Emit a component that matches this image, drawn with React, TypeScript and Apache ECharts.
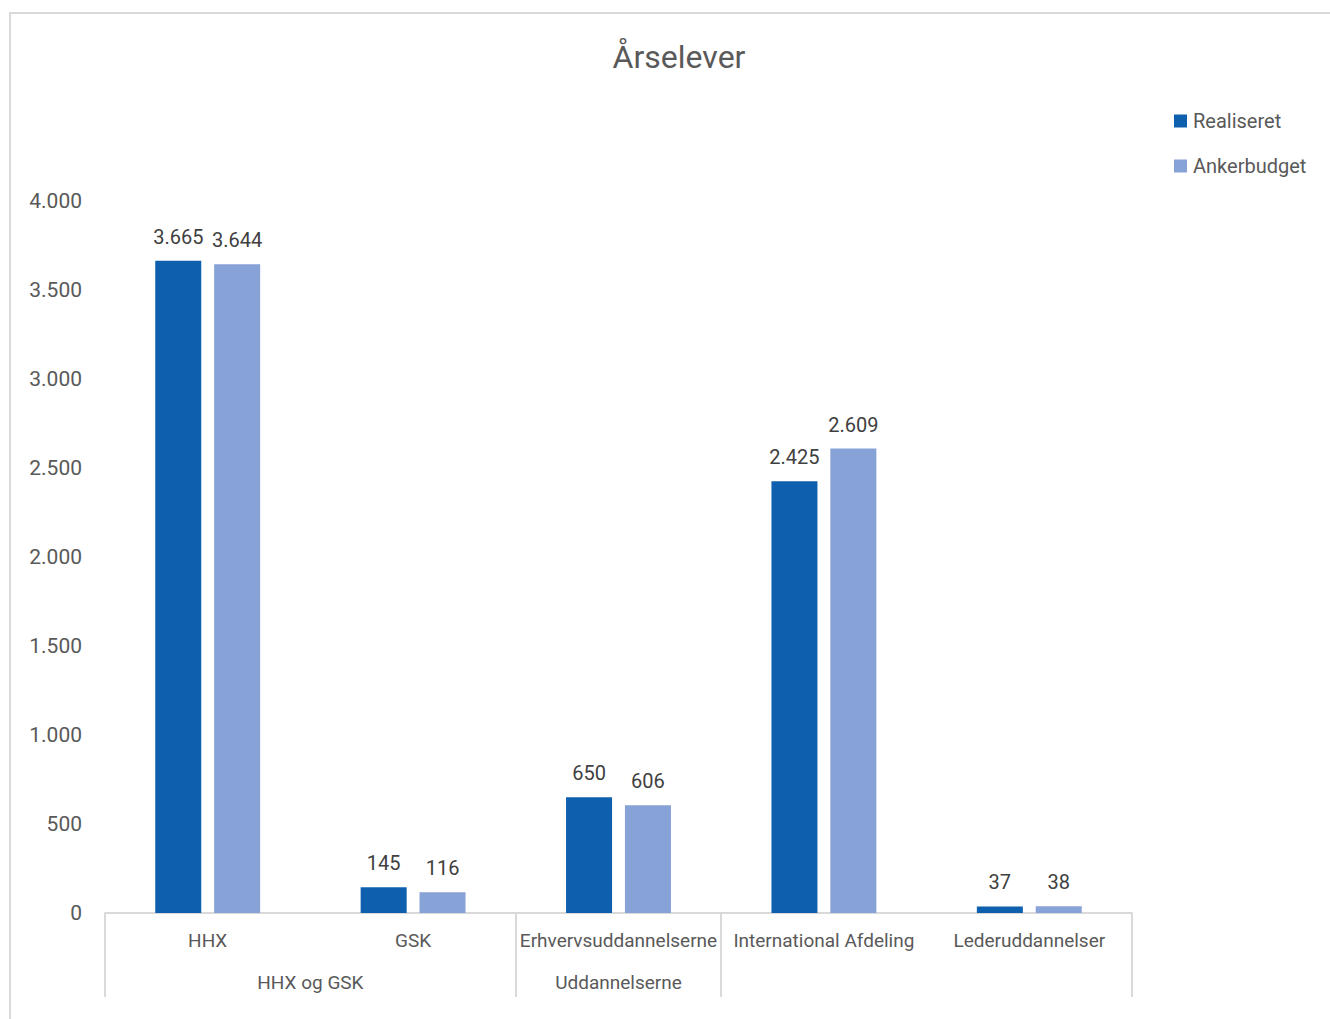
import React, { useEffect, useRef } from "react";
import * as echarts from "echarts";

const categories = ["HHX", "GSK", "Erhvervsuddannelserne", "International Afdeling", "Lederuddannelser"];
const realiseret = [3665, 145, 650, 2425, 37];
const ankerbudget = [3644, 116, 606, 2609, 38];
const seriesNames = ["Realiseret", "Ankerbudget"];
const groups = [
  { name: "HHX og GSK", start: 0, end: 2 },
  { name: "Uddannelserne", start: 2, end: 3 },
  { name: "", start: 3, end: 5 },
];
const yTicks = { min: 0, max: 4000, interval: 500 };

const fmt = (v: number) => String(Math.round(v)).replace(/\B(?=(\d{3})+(?!\d))/g, ".");

const FONT = "Roboto, 'Liberation Sans', sans-serif";

export default function App() {
  const ref = useRef<HTMLDivElement>(null);
  useEffect(() => {
    document.body.style.margin = "0";
    const chart = echarts.init(ref.current!, undefined, { renderer: "svg" });
    const boundaryIdx = new Set(groups.map((g) => g.start));
    const groupCenters: Record<string, string> = {};
    groups.forEach((g) => {
      if (g.name) groupCenters[String((g.start + g.end) / 2)] = g.name;
    });
    const labelCfg = {
      show: true,
      position: "top",
      distance: 14,
      fontSize: 20,
      color: "#404040",
      fontFamily: FONT,
      formatter: (p: any) => fmt(p.value),
    };
    chart.setOption({
      animation: false,
      backgroundColor: "#ffffff",
      textStyle: { fontFamily: FONT },
      title: {
        text: "Årselever",
        left: 674,
        top: 36,
        textAlign: "center",
        textStyle: { fontSize: 32, fontWeight: "normal", color: "#595959", fontFamily: FONT },
      },
      legend: {
        orient: "vertical",
        left: 1169,
        top: 106,
        itemWidth: 13,
        itemHeight: 13,
        itemGap: 25,
        icon: "rect",
        textStyle: { fontSize: 20, color: "#595959", fontFamily: FONT, padding: [0, 0, 0, 1] },
        data: seriesNames,
      },
      graphic: [
        {
          type: "rect",
          shape: { x: 10, y: 13, width: 1330, height: 1019 },
          style: { fill: "none", stroke: "#d9d9d9", lineWidth: 2 },
          silent: true,
        },
      ],
      grid: { left: 105, right: 198, top: 201, bottom: 106, containLabel: false },
      xAxis: [
        {
          type: "category",
          data: categories,
          axisLine: { show: true, lineStyle: { color: "#d9d9d9", width: 2 } },
          axisTick: {
            show: true,
            length: 84,
            lineStyle: { color: "#d9d9d9", width: 2 },
            interval: (i: number) => boundaryIdx.has(i),
          },
          axisLabel: {
            interval: 0,
            margin: 18,
            fontSize: 19,
            color: "#595959",
            fontFamily: FONT,
          },
          splitLine: { show: false },
        },
        {
          type: "value",
          position: "bottom",
          min: 0,
          max: categories.length,
          interval: 0.5,
          axisLine: { show: false },
          axisTick: { show: false },
          splitLine: { show: false },
          axisLabel: {
            margin: 60,
            fontSize: 19,
            color: "#595959",
            fontFamily: FONT,
            formatter: (v: number) => groupCenters[String(v)] || "",
          },
        },
      ],
      yAxis: {
        type: "value",
        min: yTicks.min,
        max: yTicks.max,
        interval: yTicks.interval,
        axisLine: { show: false },
        axisTick: { show: false },
        splitLine: { show: false },
        axisLabel: {
          margin: 23,
          fontSize: 21,
          color: "#595959",
          fontFamily: FONT,
          formatter: (v: number) => fmt(v),
        },
      },
      series: [
        {
          name: seriesNames[0],
          type: "bar",
          xAxisIndex: 0,
          data: realiseret,
          barWidth: "22.4%",
          barGap: "28%",
          itemStyle: { color: "#0E60AE" },
          label: labelCfg,
        },
        {
          name: seriesNames[1],
          type: "bar",
          xAxisIndex: 0,
          data: ankerbudget,
          barWidth: "22.4%",
          barGap: "28%",
          itemStyle: { color: "#87A2D6" },
          label: labelCfg,
        },
      ],
    });
    return () => chart.dispose();
  }, []);
  return <div ref={ref} style={{ width: 1330, height: 1019 }} />;
}
